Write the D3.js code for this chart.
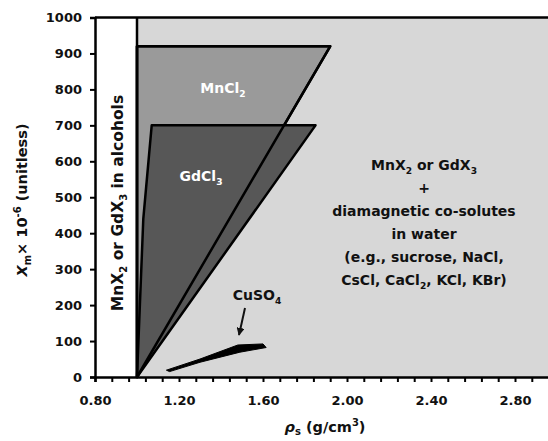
<!DOCTYPE html>
<html><head><meta charset="utf-8">
<script src="https://cdn.jsdelivr.net/npm/d3@7"></script>
<style>body{margin:0;background:#fff}svg{display:block;font-family:"DejaVu Sans",Arial,sans-serif;font-weight:bold}</style>
</head><body><svg id="c" width="548" height="441"></svg>
<script>
// data
const xDomain = [0.8, 3.0];
const yDomain = [0, 1000];
const xTickValues = d3.range(0, 28).map(i => +(0.8 + 0.08 * i).toFixed(2));
const xLabelValues = [0.8, 1.2, 1.6, 2.0, 2.4, 2.8];
const yTickValues = [0, 100, 200, 300, 400, 500, 600, 700, 800, 900, 1000];
const alcoholLimit = 1.0;
const mncl2Region = [[1.0, 0], [1.0, 920], [1.92, 920]];
const gdcl3Region = [[1.0, 0], [1.03, 440], [1.07, 700], [1.85, 700]];
const cuso4Upper = [[1.14, 19], [1.3, 50], [1.48, 89], [1.6, 92]];
const cuso4Lower = [[1.615, 82], [1.49, 69], [1.3, 41], [1.155, 15]];
const waterLines = ["MnX|2| or GdX|3|", "+", "diamagnetic co-solutes", "in water", "(e.g., sucrose, NaCl,", "CsCl, CaCl|2|, KCl, KBr)"];

const svg = d3.select("#c");
const x = d3.scaleLinear().domain(xDomain).range([95, 557]);
const y = d3.scaleLinear().domain(yDomain).range([377, 17.5]);
const line = d3.line().x(d => x(d[0])).y(d => y(d[1]));
const FONT = "DejaVu Sans, Arial, sans-serif";

// background regions
svg.append("rect").attr("x", x(alcoholLimit)).attr("y", y(1000)).attr("width", x(3.0) - x(alcoholLimit)).attr("height", y(0) - y(1000)).attr("fill", "#d7d7d7");
svg.append("path").attr("d", line(mncl2Region) + "Z").attr("fill", "#9a9a9a").attr("stroke", "#000").attr("stroke-width", 2.5).attr("stroke-linejoin", "round");
svg.append("path").attr("d", line(gdcl3Region) + "Z").attr("fill", "#575757").attr("stroke", "#000").attr("stroke-width", 2.5).attr("stroke-linejoin", "round");
svg.append("path").attr("d", line(mncl2Region) + "Z").attr("fill", "none").attr("stroke", "#000").attr("stroke-width", 2.5).attr("stroke-linejoin", "round");
svg.append("line").attr("x1", x(alcoholLimit)).attr("x2", x(alcoholLimit)).attr("y1", y(0)).attr("y2", y(1000)).attr("stroke", "#000").attr("stroke-width", 2.5);
svg.append("path").attr("d", line(cuso4Upper.concat(cuso4Lower)) + "Z").attr("fill", "#000").attr("stroke", "#000").attr("stroke-width", 1).attr("stroke-linejoin", "round");

// axes
const yAxis = d3.axisLeft(y).tickValues(yTickValues).tickSize(5).tickPadding(8).tickFormat(d3.format("d"));
const gy = svg.append("g").attr("transform", `translate(${x(0.8)},0)`).call(yAxis);
gy.selectAll("text").attr("font-size", 13).attr("font-family", FONT).attr("font-weight", "bold").attr("fill", "#111");
gy.selectAll("line").attr("stroke-width", 2);
gy.select(".domain").attr("stroke-width", 2.5);

const xAxis = d3.axisBottom(x).tickValues(xTickValues).tickSize(5).tickPadding(14).tickFormat(d => xLabelValues.some(v => Math.abs(v - d) < 1e-6) ? d3.format(".2f")(d) : "");
const gx = svg.append("g").attr("transform", `translate(0,${y(0)})`).call(xAxis);
gx.selectAll("text").attr("font-size", 13).attr("font-family", FONT).attr("font-weight", "bold").attr("fill", "#111");
gx.selectAll("line").attr("stroke-width", 2);
gx.select(".domain").attr("stroke-width", 2.5);

// top border
svg.append("line").attr("x1", x(0.8)).attr("x2", 548).attr("y1", y(1000)).attr("y2", y(1000)).attr("stroke", "#000").attr("stroke-width", 2.5);

// rich text helper: "A|sub|B"
function rich(t, str, size, sub) {
  const parts = str.split("|");
  parts.forEach((p, i) => {
    if (!p) return;
    const ts = t.append("tspan").text(p);
    if (i % 2 === 1) { ts.attr("font-size", size * 0.65).attr("dy", sub); }
    else if (i > 0) { ts.attr("dy", -sub); }
  });
}

// labels
const t1 = svg.append("text").attr("x", 223).attr("y", 93).attr("text-anchor", "middle").attr("fill", "#fff").attr("font-size", 14);
rich(t1, "MnCl|2|", 14, 4);
const t2 = svg.append("text").attr("x", 201).attr("y", 181).attr("text-anchor", "middle").attr("fill", "#fff").attr("font-size", 14);
rich(t2, "GdCl|3|", 14, 4);

const tv = svg.append("text").attr("transform", "translate(123,203) rotate(-90)").attr("text-anchor", "middle").attr("fill", "#111").attr("font-size", 15.5);
rich(tv, "MnX|2| or GdX|3| in alcohols", 15.5, 4);

waterLines.forEach((s, i) => {
  const t = svg.append("text").attr("x", 424).attr("y", 170 + i * 23).attr("text-anchor", "middle").attr("fill", "#111").attr("font-size", 14);
  rich(t, s, 14, 4);
});

const tc = svg.append("text").attr("x", 257).attr("y", 300).attr("text-anchor", "middle").attr("fill", "#111").attr("font-size", 14);
rich(tc, "CuSO|4|", 14, 4);
svg.append("defs").append("marker").attr("id", "ah").attr("viewBox", "0 0 10 10").attr("refX", 9).attr("refY", 5).attr("markerWidth", 4).attr("markerHeight", 4).attr("orient", "auto")
  .append("path").attr("d", "M0,0L10,5L0,10Z").attr("fill", "#111");
svg.append("line").attr("x1", 245).attr("y1", 308).attr("x2", 239).attr("y2", 335).attr("stroke", "#111").attr("stroke-width", 2).attr("marker-end", "url(#ah)");

// axis titles
const ty = svg.append("text").attr("transform", "translate(27,200) rotate(-90)").attr("text-anchor", "middle").attr("fill", "#111").attr("font-size", 14.5);
ty.append("tspan").attr("font-style", "italic").text("X");
ty.append("tspan").attr("font-size", 10).attr("dy", 4).text("m");
ty.append("tspan").attr("dy", -4).text("× 10");
ty.append("tspan").attr("font-size", 10).attr("dy", -6).text("-6");
ty.append("tspan").attr("dy", 6).text(" (unitless)");

const tx = svg.append("text").attr("x", 325).attr("y", 432).attr("text-anchor", "middle").attr("fill", "#111").attr("font-size", 14.5);
tx.append("tspan").attr("font-style", "italic").text("ρ");
tx.append("tspan").attr("font-size", 10).attr("dy", 3).text("s");
tx.append("tspan").attr("dy", -3).text(" (g/cm");
tx.append("tspan").attr("font-size", 10).attr("dy", -6).text("3");
tx.append("tspan").attr("dy", 6).text(")");
</script></body></html>
